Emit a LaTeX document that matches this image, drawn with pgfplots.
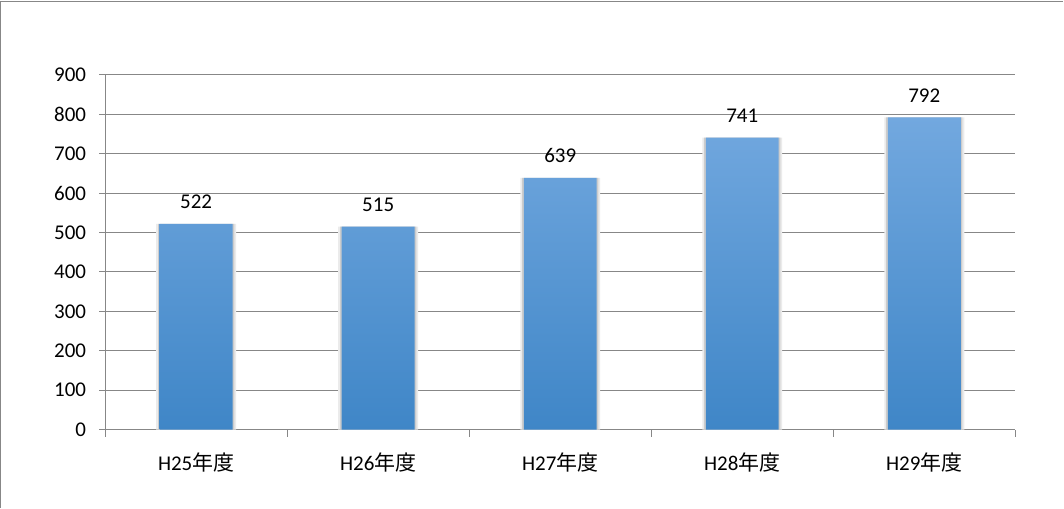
\documentclass[border=0pt]{standalone}
\usepackage{fontspec}
\setmainfont{Carlito}
\newfontfamily\cjk{Noto Sans CJK JP}
\usepackage{pgfplots}
\pgfplotsset{compat=1.18}
\definecolor{gridgray}{HTML}{878787}
\definecolor{bartop}{HTML}{72A8DF}
\definecolor{barbot}{HTML}{3F86C7}
\begin{document}
\begin{tikzpicture}
\begin{axis}[
  scale only axis,
  width=455.5pt, height=177.5pt,
  xmin=-0.5, xmax=4.5, ymin=0, ymax=900,
  ytick={0,100,...,900},
  xtick={0,1,2,3,4},
  xticklabels={H25{\cjk 年度},H26{\cjk 年度},H27{\cjk 年度},H28{\cjk 年度},H29{\cjk 年度}},
  minor xtick={-0.5,0.5,1.5,2.5,3.5,4.5},
  axis lines=left,
  axis line style={-, gridgray, line width=0.5pt},
  ymajorgrids, grid style={gridgray, line width=0.5pt},
  tick align=outside,
  major tick length=3pt, minor tick length=3.5pt,
  x tick style={draw=none},
  minor x tick style={draw=gridgray, line width=0.5pt},
  y tick style={gridgray, line width=0.5pt},
  tick label style={font=\fontsize{10.5}{12}\selectfont},
  /pgf/number format/assume math mode=true,
  xticklabel style={yshift=-5pt},
  yticklabel style={xshift=-3pt},
  clip=false,
]
\addplot[ybar, bar width=40pt, bar shift=0pt, draw=none, fill=black!8] coordinates {(0,522) (1,515) (2,639) (3,741) (4,792)};
\addplot[ybar, bar width=38.2pt, bar shift=0pt, draw=none, fill=black!20] coordinates {(0,522) (1,515) (2,639) (3,741) (4,792)};
\addplot[ybar, bar width=36.5pt, bar shift=0pt, draw=none, top color=bartop, bottom color=barbot,
  nodes near coords, every node near coord/.append style={font=\fontsize{10.5}{12}\selectfont, yshift=4pt, black}] coordinates {(0,522) (1,515) (2,639) (3,741) (4,792)};
\end{axis}
\draw[gridgray, line width=0.75pt] (-52.25pt,-39pt) -- (-52.25pt,214.25pt) -- (479.5pt,214.25pt);
\useasboundingbox (-52.5pt,-39pt) rectangle (479.5pt,215pt);
\end{tikzpicture}
\end{document}
